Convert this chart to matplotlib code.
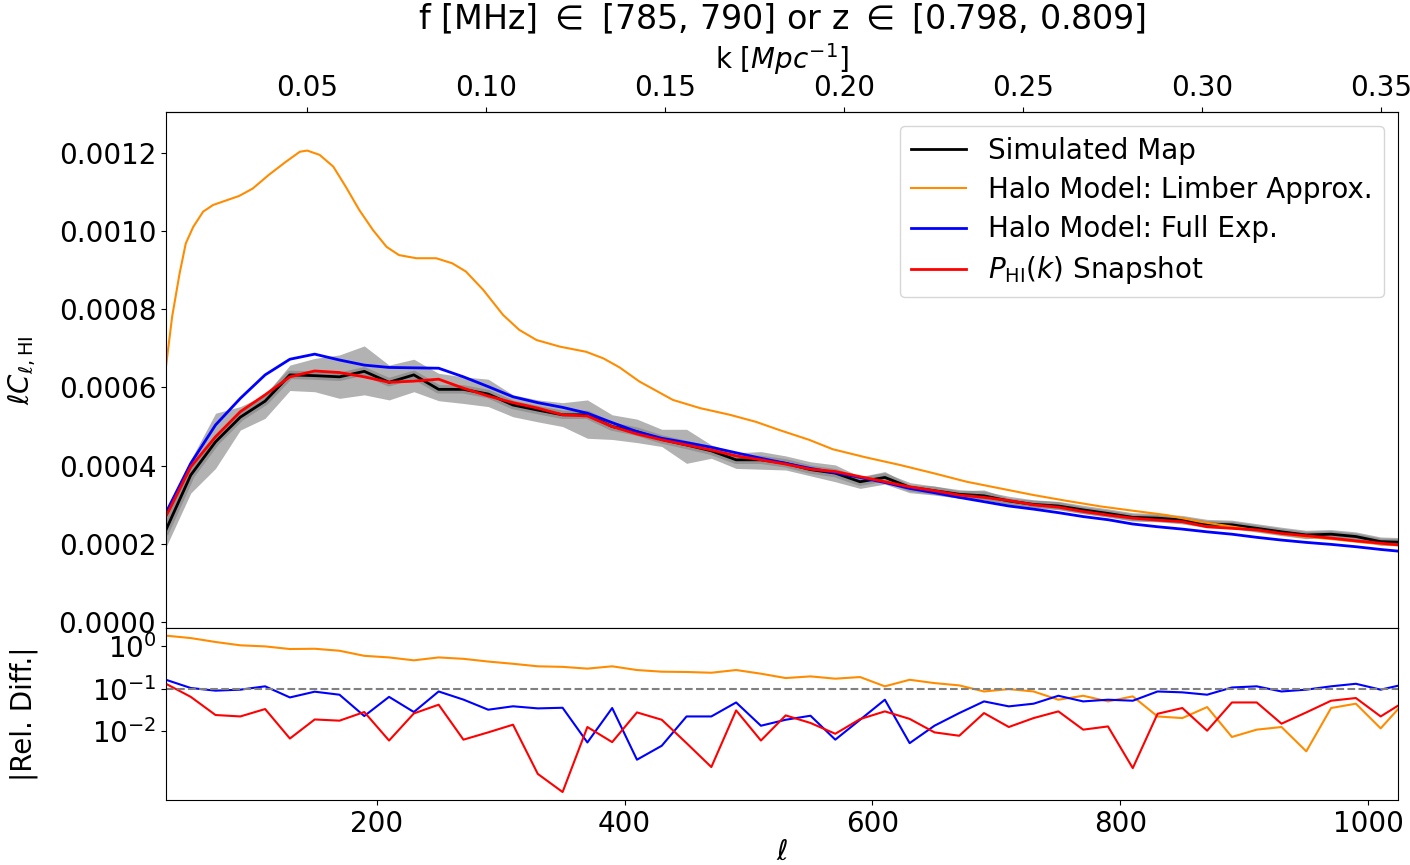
import matplotlib
matplotlib.use('Agg')
import matplotlib.pyplot as plt
import numpy as np

plt.rcParams['font.size'] = 20

# multipole bin centres
ell = np.arange(30, 1031, 20)

# simulated map (black) and its spread
sim = [0.000236, 0.000376, 0.000461, 0.000524, 0.000565, 0.000632, 0.000630, 0.000627, 0.000641, 0.000613,
       0.000632, 0.000595, 0.000595, 0.000583, 0.000555, 0.000542, 0.000530, 0.000530, 0.000500, 0.000487,
       0.000467, 0.000453, 0.000438, 0.000415, 0.000415, 0.000406, 0.000390, 0.000381, 0.000359, 0.000370,
       0.000345, 0.000336, 0.000327, 0.000323, 0.000310, 0.000301, 0.000297, 0.000287, 0.000278, 0.000268,
       0.000266, 0.000261, 0.000251, 0.000249, 0.000240, 0.000231, 0.000223, 0.000225, 0.000219, 0.000206,
       0.000204]
sim_hi = [0.000262, 0.000415, 0.000534, 0.000551, 0.000581, 0.000657, 0.000674, 0.000683, 0.000706, 0.000657,
          0.000672, 0.000636, 0.000627, 0.000621, 0.000581, 0.000568, 0.000561, 0.000568, 0.000530, 0.000519,
          0.000493, 0.000493, 0.000453, 0.000433, 0.000436, 0.000425, 0.000410, 0.000402, 0.000372, 0.000385,
          0.000351, 0.000348, 0.000336, 0.000338, 0.000317, 0.000312, 0.000308, 0.000295, 0.000287, 0.000277,
          0.000275, 0.000270, 0.000260, 0.000258, 0.000249, 0.000240, 0.000232, 0.000234, 0.000228, 0.000215,
          0.000213]
sim_lo = [0.000192, 0.000330, 0.000393, 0.000491, 0.000521, 0.000592, 0.000589, 0.000572, 0.000581, 0.000568,
          0.000589, 0.000566, 0.000559, 0.000551, 0.000525, 0.000512, 0.000500, 0.000470, 0.000467, 0.000459,
          0.000449, 0.000406, 0.000419, 0.000393, 0.000391, 0.000389, 0.000374, 0.000359, 0.000342, 0.000353,
          0.000331, 0.000325, 0.000317, 0.000312, 0.000302, 0.000294, 0.000289, 0.000278, 0.000270, 0.000260,
          0.000258, 0.000253, 0.000243, 0.000241, 0.000232, 0.000223, 0.000215, 0.000217, 0.000211, 0.000198,
          0.000196]

# halo model full expression (blue)
full = [0.000280, 0.000406, 0.000504, 0.000572, 0.000632, 0.000672, 0.000685, 0.000670, 0.000657, 0.000651,
        0.000650, 0.000649, 0.000627, 0.000602, 0.000576, 0.000561, 0.000549, 0.000534, 0.000510, 0.000487,
        0.000470, 0.000459, 0.000447, 0.000433, 0.000419, 0.000406, 0.000393, 0.000382, 0.000370, 0.000357,
        0.000342, 0.000331, 0.000319, 0.000308, 0.000297, 0.000289, 0.000280, 0.000270, 0.000262, 0.000251,
        0.000244, 0.000238, 0.000231, 0.000225, 0.000217, 0.000210, 0.000204, 0.000199, 0.000193, 0.000186,
        0.000180]

# P_HI(k) snapshot (red)
snap = [0.000270, 0.000397, 0.000474, 0.000538, 0.000581, 0.000627, 0.000642, 0.000638, 0.000627, 0.000613,
        0.000616, 0.000621, 0.000598, 0.000578, 0.000561, 0.000547, 0.000530, 0.000527, 0.000500, 0.000481,
        0.000466, 0.000453, 0.000440, 0.000425, 0.000415, 0.000404, 0.000391, 0.000385, 0.000372, 0.000359,
        0.000346, 0.000336, 0.000325, 0.000319, 0.000311, 0.000300, 0.000294, 0.000283, 0.000274, 0.000266,
        0.000261, 0.000257, 0.000244, 0.000240, 0.000236, 0.000227, 0.000221, 0.000215, 0.000208, 0.000202,
        0.000196]

# limber approx. (orange), finer ell grid
ell_limber = [30, 35, 41, 46, 52, 60, 68, 78, 89, 100, 113, 127, 138, 144, 154, 165, 175, 186, 197, 208,
              218, 232, 248, 261, 272, 286, 302, 315, 329, 348, 369, 383, 396, 412, 439, 461, 485, 506, 525,
              549, 568, 595, 622, 649, 676, 703, 730, 757, 784, 810, 837, 864, 891, 918, 945, 972, 999, 1024]
limber = [0.000653, 0.000781, 0.000891, 0.000968, 0.001010, 0.001049, 0.001066, 0.001077, 0.001089, 0.001108,
          0.001143, 0.001177, 0.001202, 0.001205, 0.001194, 0.001164, 0.001113, 0.001053, 0.001002, 0.000959,
          0.000938, 0.000930, 0.000930, 0.000917, 0.000896, 0.000849, 0.000785, 0.000747, 0.000721, 0.000704,
          0.000691, 0.000674, 0.000651, 0.000615, 0.000568, 0.000547, 0.000530, 0.000512, 0.000491, 0.000466,
          0.000442, 0.000421, 0.000402, 0.000381, 0.000359, 0.000342, 0.000325, 0.000310, 0.000296, 0.000285,
          0.000274, 0.000257, 0.000244, 0.000231, 0.000220, 0.000212, 0.000203, 0.000197]

# relative differences to the simulated map
rel_limber = [1.79, 1.57, 1.27, 1.06, 1.00, 0.867, 0.88, 0.79, 0.60, 0.55, 0.47, 0.55, 0.51, 0.44, 0.39, 0.34, 0.33,
              0.30, 0.34, 0.278, 0.254, 0.25, 0.24, 0.278, 0.228, 0.18, 0.197, 0.174, 0.19, 0.115, 0.164, 0.137, 0.121, 0.087,
              0.099, 0.087, 0.0557, 0.069, 0.0508, 0.0667, 0.0225, 0.0206, 0.0374, 0.0074, 0.011, 0.0127, 0.0034, 0.0355, 0.0449, 0.0118, 0.052]
rel_full = [0.164, 0.105, 0.091, 0.096, 0.115, 0.063, 0.086, 0.073, 0.023, 0.065, 0.0286, 0.087, 0.056, 0.0324, 0.039, 0.0348, 0.036,
            0.0055, 0.0355, 0.00216, 0.0046, 0.0225, 0.0225, 0.048, 0.0136, 0.0188, 0.0234, 0.0064, 0.0188, 0.0557, 0.0053, 0.0136, 0.027, 0.0508,
            0.0388, 0.0449, 0.069, 0.0508, 0.0557, 0.0527, 0.087, 0.083, 0.073, 0.108, 0.115, 0.087, 0.096, 0.115, 0.132, 0.096, 0.13]
rel_snap = [0.132, 0.065, 0.0243, 0.0225, 0.0336, 0.0068, 0.0191, 0.0179, 0.0286, 0.0061, 0.0265, 0.0425, 0.0064, 0.0095, 0.0144, 0.0010, 0.000375,
            0.0127, 0.0056, 0.028, 0.0188, 0.0053, 0.00145, 0.0312, 0.0061, 0.0238, 0.0158, 0.0088, 0.0195, 0.0296, 0.0197, 0.0095, 0.0079, 0.027,
            0.0127, 0.0206, 0.0296, 0.011, 0.0131, 0.00137, 0.026, 0.0355, 0.0104, 0.048, 0.048, 0.0152, 0.028, 0.0527, 0.061, 0.0225, 0.0518]

chi = 2888.  # Mpc, ell -> k conversion


def ell2k(l):
    return (l + 0.5) / chi


def k2ell(k):
    return k * chi - 0.5


fig = plt.figure(figsize=(14.1, 8.65), dpi=100)
ax = fig.add_axes([0.1177, 0.2740, 0.8738, 0.5965])
ax2 = fig.add_axes([0.1177, 0.0751, 0.8738, 0.1989], sharex=ax)

ax.fill_between(ell, sim_lo, sim_hi, color='gray', alpha=0.6, lw=0)
ax.plot(ell, sim, color='gray', lw=6, alpha=0.6)
ax.plot(ell, sim, color='k', lw=2, label='Simulated Map')
ax.plot(ell_limber, limber, color='darkorange', lw=1.5, label='Halo Model: Limber Approx.')
ax.plot(ell, full, color='blue', lw=2, label='Halo Model: Full Exp.')
ax.plot(ell, snap, color='red', lw=2, label=r'$P_{\rm HI}(k)$ Snapshot')
ax.set_xlim(30, 1024)
ax.set_ylim(-1.46e-5, 1.3035e-3)
ax.set_ylabel(r'$\ell C_{\ell,\rm HI}$')
ax.yaxis.set_label_coords(-0.104, 0.5)
ax.tick_params(labelbottom=False)
ax.legend(loc='upper right', labelspacing=0.4)

secax = ax.secondary_xaxis('top', functions=(ell2k, k2ell))
secax.set_xticks([0.05, 0.10, 0.15, 0.20, 0.25, 0.30, 0.35])
secax.set_xticklabels(['0.05', '0.10', '0.15', '0.20', '0.25', '0.30', '0.35'])
secax.set_xlabel(r'k [$Mpc^{-1}$]', labelpad=4)
ax.set_title('f [MHz] $\\in$ [785, 790] or z $\\in$ [0.798, 0.809]', fontsize=24, pad=8)

ax2.plot(ell, rel_limber, color='darkorange', lw=1.5)
ax2.plot(ell, rel_full, color='blue', lw=1.5)
ax2.plot(ell, rel_snap, color='red', lw=1.5)
ax2.axhline(0.1, color='gray', ls='--', lw=1.5)
ax2.set_yscale('log')
ax2.set_ylim(2.43e-4, 2.71)
ax2.set_yticks([1, 0.1, 0.01])
ax2.yaxis.set_minor_locator(matplotlib.ticker.NullLocator())
ax2.set_ylabel('|Rel. Diff.|')
ax2.yaxis.set_label_coords(-0.104, 0.5)
ax2.set_xlabel(r'$\ell$', labelpad=0)

plt.savefig('out.png', dpi=100)
